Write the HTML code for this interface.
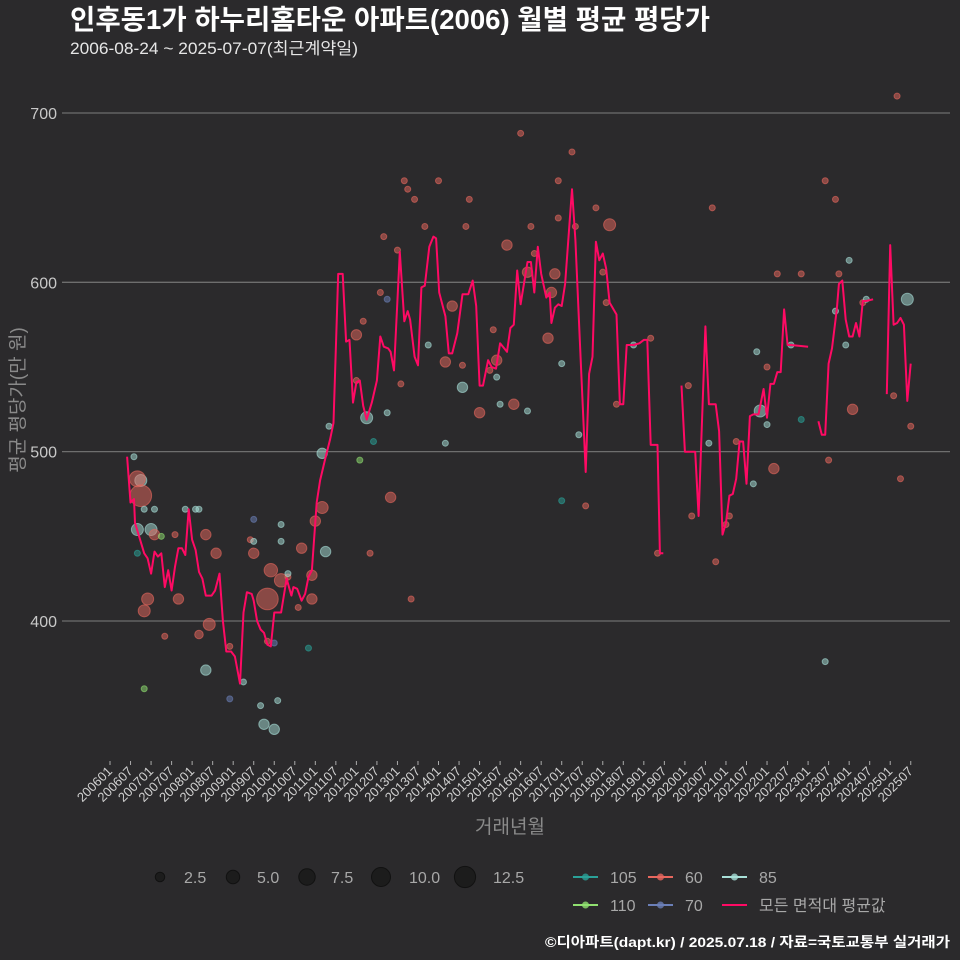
<!DOCTYPE html>
<html><head><meta charset="utf-8">
<style>
html,body{margin:0;padding:0;background:#2b2a2c;}
svg{display:block;font-family:"Liberation Sans","Noto Sans CJK KR",sans-serif;}
</style></head>
<body>
<svg id="chart" width="960" height="960" viewBox="0 0 960 960">
<rect x="0" y="0" width="960" height="960" fill="#2b2a2c"/>
<text x="70" y="29" fill="#ffffff" font-size="27.5" font-weight="bold" textLength="640" lengthAdjust="spacingAndGlyphs">인후동1가 하누리홈타운 아파트(2006) 월별 평균 평당가</text>
<text x="70" y="54" fill="#e6e6e6" font-size="16.5" textLength="288" lengthAdjust="spacingAndGlyphs">2006-08-24 ~ 2025-07-07(최근계약일)</text>
<text transform="translate(24,400) rotate(-90)" text-anchor="middle" fill="#8a8a8a" font-size="19">평균 평당가(만 원)</text>
<text x="510" y="833" text-anchor="middle" fill="#8a8a8a" font-size="19">거래년월</text>
<g id="grid"></g><g id="yticks"></g><g id="xticks"></g><g id="points"></g><g id="line"></g><g id="legend"></g>
<text x="950" y="947" text-anchor="end" fill="#ffffff" font-size="14" font-weight="bold" textLength="405" lengthAdjust="spacingAndGlyphs">©디아파트(dapt.kr) / 2025.07.18 / 자료=국토교통부 실거래가</text>
</svg>
<script>
const yTicks=[400,500,600,700];
const xTickLabels=["200601","200607","200701","200707","200801","200807","200901","200907","201001","201007","201101","201107","201201","201207","201301","201307","201401","201407","201501","201507","201601","201607","201701","201707","201801","201807","201901","201907","202001","202007","202101","202107","202201","202207","202301","202307","202401","202407","202501","202507"];
const lineMonths=[5,6,7,7.3,8.8,10,11,12,13,14,15,16,17,18,19,20,21,22,23,24,25,26,27,28,29.7,30.7,32,33,34,35.4,36.5,38,39,40,41.4,42,43,44,45,46,47,48,49,50,51.6,53,53.6,54.7,56,57,58,59,60.4,61.4,62.8,64.3,65.3,66.7,68,69,70,71,72,73,74,75,76.5,78,79,80,81.3,82,83,84.7,86,87,87.7,89,90,91,92,93.3,94.5,95.3,96.2,98,99,100,101.5,103,104.7,106,107,108,109,110.5,111.5,112.8,114,116,117,118,119,120,122,123,124,125,126,127.5,128.5,129,130,131,132,133,135,136,137.3,139,140,141,142,143,144,145,146,148,149,150,151,153,154.7,156,157,158,160,160.7,161.7,164,167,168,171,172,174,175,177,178,179,180,181,182,183,184,185,186,187,188,189.5,191,192,193,194,195,196,197,198,199,204,205.5,207,208,209,210,211,212.4,213,214,215,216,217,218,219,220,221,223,225,227,228,229,230,231,232,233,234];
const lineValues=[497,470,472,458,448,440,437,428,441,438,440,420,430,418,432,443,443,439,466,448,442,429,425,415,415,418,428,400,382,382,379,363,405,417,416,412,400,395,393,386,385,405,405,405,425,415,420,419,412,416,426,430,470,483,495,507,517,605,605,565,566,529,541,542,527,519,529,542,568,562,561,559,548,618,577,583,578,556,551,597,598,621,627,626,594,580,558,558,570,593,593,601,586,539,539,554,550,549,564,559,573,575,607,587,612,612,594,621,605,591,594,576,585,587,586,599,655,625,566,488,546,556,624,613,617,608,588,581,528,528,563,563,564,566,566,504,504,440,440,null,539,500,500,462,574,528,528,512,451,458,474,475,484,506,506,481,521,522,522,537,520,540,540,547,547,584,563,563,562,null,518,510,510,552,561,584,599,601,578,568,568,576,568,589,589,590,null,534,622,575,576,579,575,530,552];
const ptMonths=[7,9,8,9,10,13,8,12,13,15,8,11,10,16,20,10,22,25,26,28,19,31,26,29,28,41,42,42,42,35,35,47,50,46,39,44,45,48,49,48,46,52,52,50,50,56,55,58,59,59,63,60,62,62,64,73,75,77,76,72,74,72,79,80,81,81,82,84,85,86,87,89,88,92,93,96,98,98,100,103,103,104,105,108,111,112,113,114,113,116,118,120,122,122,123,124,128,129,130,131,131,132,132,135,136,137,139,142,146,144,145,148,153,158,160,169,170,175,176,177,181,180,183,188,189,190,192,192,194,195,199,202,202,209,209,210,212,212,213,215,216,217,220,221,229,230,231,233,234];
const ptValues=[497,483,484,474,466,466,454,454,451,450,440,413,406,391,413,360,466,466,466,451,451,440,392,398,371,448,460,447,440,385,354,430,424,413,364,350,339,336,353,387,388,426,428,457,447,443,408,384,427,413,441,459,467,499,515,495,520,506,440,569,577,542,594,627,590,523,473,619,540,660,655,649,413,633,563,660,553,505,586,551,538,633,649,523,548,572,544,528,554,622,528,688,524,606,633,617,567,594,605,660,638,471,552,677,633,510,468,644,634,606,588,528,563,567,440,539,462,505,644,435,462,457,506,481,559,524,550,516,490,605,563,605,519,660,376,495,583,649,605,563,613,525,588,590,533,710,484,590,515];
const ptSizes=[1,4,7,13,1,1,4,4,3,1,1,4,4,1,3,1,1,1,1,3,1,3,2,4,3,1,1,1,3,1,1,5,5,13,1,1,3,3,1,1,1,1,1,1,1,3,1,1,3,3,3,3,4,3,1,1,4,1,1,3,1,1,1,1,1,1,3,1,1,1,1,1,1,1,1,1,3,1,3,1,3,1,1,3,1,1,1,1,3,3,3,1,1,3,1,1,3,3,3,1,1,1,1,1,1,1,1,1,4,1,1,1,1,1,1,1,1,1,1,1,1,1,1,1,1,4,1,1,3,1,1,1,1,1,1,1,1,1,1,1,1,3,1,1,1,1,1,4,1];
const ptTypes=["85","85","60","60","85","85","85","85","60","110","105","60","60","60","60","110","85","85","85","60","60","60","60","60","85","60","70","85","60","60","70","60","60","60","85","85","85","85","85","70","60","60","85","85","85","60","60","105","60","60","85","60","60","85","85","110","85","105","60","60","60","60","60","60","70","85","60","60","60","60","60","60","60","60","85","60","60","85","60","60","85","60","60","60","60","60","85","85","60","60","60","60","85","60","60","60","60","60","60","60","60","105","85","60","60","85","60","60","60","60","60","60","85","60","60","60","60","85","60","60","60","60","60","85","85","85","60","85","60","60","85","60","105","60","85","60","85","60","60","85","85","60","60","85","60","60","60","85","60"];
const typeColors={"105":"#2aa198","110":"#90e070","60":"#e8675e","70":"#6b7fb8","85":"#a8e0d8"};
const NS="http://www.w3.org/2000/svg";
const X0=110,XS=3.422,Y700=113,PY=1.6933;
const xs=m=>X0+XS*m;
const ys=v=>Y700+(700-v)*PY;
function mk(tag,attrs,parent){const e=document.createElementNS(NS,tag);for(const k in attrs)e.setAttribute(k,attrs[k]);parent.appendChild(e);return e;}
const grid=document.getElementById('grid'),yt=document.getElementById('yticks'),xt=document.getElementById('xticks');
yTicks.forEach(v=>{
 const l=mk('line',{x1:62,x2:950,y1:ys(v),y2:ys(v),stroke:'#6e6e6e','stroke-width':1.3},grid);
 
 
 const t=mk('text',{x:57,y:ys(v)+6,'text-anchor':'end',fill:'#c8c8c8','font-size':16},yt);
 t.textContent=v;
 
 
});
xTickLabels.forEach((s,i)=>{
 const x=xs(i*6);
 const tk=mk('line',{x1:x,x2:x,y1:761,y2:765,stroke:'#aaa','stroke-width':1},xt);
 
 
 const t=mk('text',{transform:`translate(${x+3},772) rotate(-45)`,'text-anchor':'end',fill:'#d0d0d0','font-size':13},xt);
 t.textContent=s;
 
 
});
const pg=document.getElementById('points');
ptMonths.forEach((m,i)=>{
 const c=mk('circle',{cx:xs(m),cy:ys(ptValues[i]),r:3*Math.sqrt(ptSizes[i]),fill:typeColors[ptTypes[i]],'fill-opacity':0.5,stroke:typeColors[ptTypes[i]],'stroke-opacity':0.6},pg);
 
 
});
const lg=document.getElementById('line');
let segs=[],cur=[];
lineMonths.forEach((m,i)=>{const v=lineValues[i];if(v===null){if(cur.length)segs.push(cur);cur=[];}else cur.push(xs(m).toFixed(1)+','+ys(v).toFixed(1));});
if(cur.length)segs.push(cur);
segs.forEach(s=>{
 const p=mk('polyline',{points:s.join(' '),fill:'none',stroke:'#ff0a64','stroke-width':2,'stroke-linejoin':'round'},lg);
 
 
});
const leg=document.getElementById('legend');
const sizeLabels=["2.5","5.0","7.5","10.0","12.5"];
const sizeVals=[2.5,5,7.5,10,12.5];
const sizeX=[160,233,307,381,465];
sizeVals.forEach((s,i)=>{
 const c=mk('circle',{cx:sizeX[i],cy:877,r:3*Math.sqrt(s),fill:'#1c1c1c',stroke:'#111','stroke-width':1},leg);
 
 
 const t=mk('text',{x:sizeX[i]+24-(i>2?-4:0),y:883,fill:'#a8a8a8','font-size':16},leg);
 t.textContent=sizeLabels[i];
 
 
});
const colItems=[["105",573,877],["60",648,877],["85",722,877],["110",573,905],["70",648,905],["avg",722,905]];
colItems.forEach(([k,x,y])=>{
 const col=k==='avg'?'#ff0a64':typeColors[k];
 const l=mk('line',{x1:x,x2:x+25,y1:y,y2:y,stroke:col,'stroke-width':2},leg);
 
 
 if(k!=='avg'){const c=mk('circle',{cx:x+12.5,cy:y,r:3.5,fill:col,'fill-opacity':0.8},leg);
 
 }
 const t=mk('text',{x:x+37,y:y+6,fill:'#a8a8a8','font-size':16},leg);
 t.textContent=k==='avg'?'모든 면적대 평균값':k;
 
 
});
</script>
</body></html>
